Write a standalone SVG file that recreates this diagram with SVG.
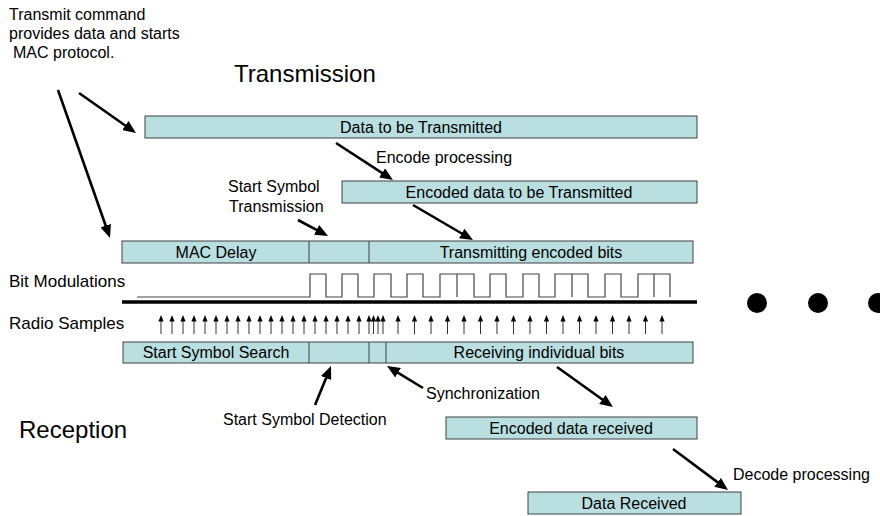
<svg xmlns="http://www.w3.org/2000/svg" xmlns:xlink="http://www.w3.org/1999/xlink" width="880" height="516" viewBox="0 0 880 516">
<style>
text{font-family:"Liberation Sans",Arial,sans-serif;fill:#000}
.t{font-size:16px}
.l{font-size:17px}
.c{font-size:16px;text-anchor:middle}
.big{font-size:24px}
.box{fill:#b9dfe1;stroke:#404040;stroke-width:1}
.div{stroke:#404040;stroke-width:1}
.arr{stroke:#000;stroke-width:2.6;fill:none;marker-end:url(#ah)}
.wave{stroke:#444;stroke-width:1.2;fill:none}
</style>
<defs>
<marker id="ah" markerUnits="userSpaceOnUse" viewBox="0 0 13 11" markerWidth="13" markerHeight="11" refX="9" refY="5.5" orient="auto">
<path d="M0 0 L13 5.5 L0 11 Z" fill="#000"/>
</marker>
<g id="s">
<line x1="0" y1="334" x2="0" y2="320" stroke="#333" stroke-width="1"/>
<path d="M0 315 L-2.6 321.5 L2.6 321.5 Z" fill="#000"/>
</g>
</defs>
<rect width="880" height="516" fill="#fff"/>

<g id="labels">
<text class="t" x="9" y="20">Transmit command</text>
<text class="t" x="9" y="39">provides data and starts</text>
<text class="t" x="13" y="58">MAC protocol.</text>
<text class="big" x="234" y="82">Transmission</text>
<text class="t" x="376" y="163">Encode processing</text>
<text class="t" x="228" y="192">Start Symbol</text>
<text class="t" x="229" y="212">Transmission</text>
<text class="l" x="9" y="287">Bit Modulations</text>
<text class="l" x="9" y="329">Radio Samples</text>
<text class="t" x="426" y="399">Synchronization</text>
<text class="t" x="223" y="425">Start Symbol Detection</text>
<text class="big" x="19" y="438">Reception</text>
<text class="t" x="733" y="480">Decode processing</text>
</g>

<g id="data-tx">
<rect class="box" x="145" y="116" width="552" height="22"/>
<text class="c" x="421" y="133">Data to be Transmitted</text>
</g>
<g id="encoded-tx">
<rect class="box" x="342" y="181" width="355" height="22"/>
<text class="c" x="519" y="198">Encoded data to be Transmitted</text>
</g>
<g id="tx-row">
<rect class="box" x="122" y="241" width="571" height="22"/>
<line class="div" x1="309" y1="241" x2="309" y2="263"/>
<line class="div" x1="369" y1="241" x2="369" y2="263"/>
<text class="c" x="216" y="258">MAC Delay</text>
<text class="c" x="531" y="258">Transmitting encoded bits</text>
</g>
<g id="bit-modulations">
<path class="wave" d="M137 297 H310 V274 H326 V297 H342 V274 H358 V297 H374 V274 H391 V297 H407 V274 H423 V297 H440 V274 H474 V297 H490 V274 H506 V297 H523 V274 H539 V297 H555 V274 H588 V297 H605 V274 H621 V297 H638 V274 H670 V297"/>
<path class="wave" d="M457 274 V297 M572 274 V297 M654 274 V297"/>
</g>
<g id="divider">
<line x1="122" y1="302" x2="697" y2="302" stroke="#000" stroke-width="3.4"/>
<circle cx="757" cy="303" r="10" fill="#000"/>
<circle cx="818" cy="303" r="10" fill="#000"/>
<circle cx="878" cy="303" r="10" fill="#000"/>
</g>
<g id="radio-samples">
<use xlink:href="#s" x="161"/><use xlink:href="#s" x="172"/><use xlink:href="#s" x="183"/><use xlink:href="#s" x="194"/><use xlink:href="#s" x="205"/><use xlink:href="#s" x="216"/><use xlink:href="#s" x="227"/><use xlink:href="#s" x="238"/><use xlink:href="#s" x="249"/><use xlink:href="#s" x="260"/><use xlink:href="#s" x="271"/><use xlink:href="#s" x="282"/><use xlink:href="#s" x="293"/><use xlink:href="#s" x="304"/><use xlink:href="#s" x="315"/><use xlink:href="#s" x="326"/><use xlink:href="#s" x="337"/><use xlink:href="#s" x="348"/><use xlink:href="#s" x="359"/>
<use xlink:href="#s" x="369"/><use xlink:href="#s" x="373.5"/><use xlink:href="#s" x="378"/><use xlink:href="#s" x="383"/>
<use xlink:href="#s" x="398"/><use xlink:href="#s" x="414.5"/><use xlink:href="#s" x="431"/><use xlink:href="#s" x="447.5"/><use xlink:href="#s" x="464"/><use xlink:href="#s" x="480.5"/><use xlink:href="#s" x="497"/><use xlink:href="#s" x="513.5"/><use xlink:href="#s" x="530"/><use xlink:href="#s" x="546.5"/><use xlink:href="#s" x="563"/><use xlink:href="#s" x="579.5"/><use xlink:href="#s" x="596"/><use xlink:href="#s" x="612.5"/><use xlink:href="#s" x="629"/><use xlink:href="#s" x="645.5"/><use xlink:href="#s" x="662"/>
</g>
<g id="rx-row">
<rect class="box" x="123" y="342" width="570" height="21"/>
<line class="div" x1="309" y1="342" x2="309" y2="363"/>
<line class="div" x1="369" y1="342" x2="369" y2="363"/>
<line class="div" x1="386" y1="342" x2="386" y2="363"/>
<text class="c" x="216" y="358">Start Symbol Search</text>
<text class="c" x="539" y="358">Receiving individual bits</text>
</g>
<g id="encoded-rx">
<rect class="box" x="446" y="417" width="251" height="22"/>
<text class="c" x="571" y="434">Encoded data received</text>
</g>
<g id="data-rx">
<rect class="box" x="528" y="492" width="213" height="22"/>
<text class="c" x="634" y="509">Data Received</text>
</g>

<g id="connectors">
<line class="arr" x1="79" y1="93" x2="132.7" y2="130.7"/>
<line class="arr" x1="58" y1="90" x2="108.7" y2="234.2"/>
<line class="arr" x1="336" y1="143" x2="389.6" y2="177.8"/>
<line class="arr" x1="413" y1="205" x2="469.5" y2="238"/>
<line class="arr" x1="298" y1="220" x2="324.5" y2="234.1"/>
<line class="arr" x1="315" y1="405" x2="329.5" y2="369.7"/>
<line class="arr" x1="423" y1="388" x2="390.4" y2="368.1"/>
<line class="arr" x1="557" y1="367" x2="609.7" y2="404.7"/>
<line class="arr" x1="673" y1="449" x2="724.8" y2="487.6"/>
</g>
</svg>
